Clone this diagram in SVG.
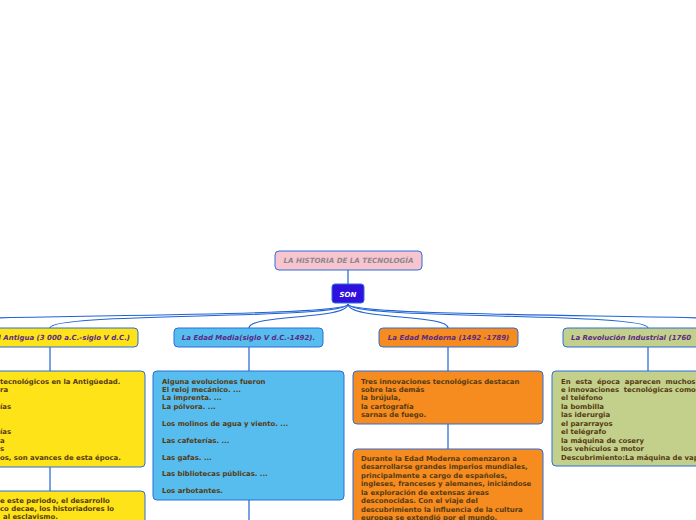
<svg xmlns="http://www.w3.org/2000/svg" width="696" height="520" viewBox="0 0 696 520">
<style>
.box{stroke:#2a6fdb;stroke-width:1}
.t1{font-family:"DejaVu Sans",Verdana,sans-serif;font-weight:bold;font-style:italic;font-size:7px;fill:#5b2a86}
.tx{font-family:"DejaVu Sans",Verdana,sans-serif;font-weight:bold;font-size:6.9px;fill:#553a12}
.con{fill:none;stroke:#1f63d6;stroke-width:1.2}
</style>
<rect width="696" height="520" fill="#ffffff"/>
<g id="connectors">
<path class="con" d="M348,270V284"/>
<path class="con" d="M348,304C348,320 249,314 249,328"/>
<path class="con" d="M348,304C348,320 50,312 50,328"/>
<path class="con" d="M348,304C348,320 -150,312 -150,328"/>
<path class="con" d="M348,304C348,320 448,314 448,328"/>
<path class="con" d="M348,304C348,320 648,312 648,328"/>
<path class="con" d="M348,304C348,320 848,312 848,328"/>
<path class="con" d="M50,347V371M50,467V491M249,347V371M249,500V520M448,347V371M448,424V449M648,347V371"/>
</g>
<g id="title">
<rect class="box" x="275" y="251" width="147" height="19" rx="4" fill="#f8c4d0"/>
<text x="348.5" y="263" text-anchor="middle" font-family="DejaVu Sans,Verdana,sans-serif" font-weight="bold" font-style="italic" font-size="7.1" fill="#8a8a8a">LA HISTORIA DE LA TECNOLOGÍA</text>
</g>
<g id="son">
<rect class="box" x="332" y="284" width="32" height="19" rx="3" fill="#3010dd"/>
<text x="348" y="296.5" text-anchor="middle" font-family="DejaVu Sans,Verdana,sans-serif" font-weight="bold" font-style="italic" font-size="7" fill="#ffffff">SON</text>
</g>
<g id="antigua">
<rect class="box" x="-38" y="328" width="176" height="19" rx="4" fill="#fde318"/>
<text class="t1" x="130" y="340" text-anchor="end">La Edad Antigua (3 000 a.C.-siglo V d.C.)</text>
</g>
<g id="media">
<rect class="box" x="174" y="328" width="149" height="19" rx="4" fill="#56bdee"/>
<text class="t1" x="248.5" y="340" text-anchor="middle">La Edad Media(siglo V d.C.-1492).</text>
</g>
<g id="moderna">
<rect class="box" x="379" y="328" width="139" height="19" rx="4" fill="#f68b20"/>
<text class="t1" x="448.5" y="340" text-anchor="middle">La Edad Moderna (1492 -1789)</text>
</g>
<g id="revolucion">
<rect class="box" x="563" y="328" width="170" height="19" rx="4" fill="#c3d08b"/>
<text class="t1" x="571" y="340">La Revolución Industrial (1760</text>
</g>
<g id="antigua-detalle">
<rect class="box" x="-45" y="371" width="190" height="96" rx="4" fill="#fde318"/>
<text class="tx" y="383.5">
<tspan x="0">tecnológicos en la Antigüedad.</tspan>
<tspan x="0" dy="8.45">ra</tspan>
<tspan x="0" dy="16.9">ías</tspan>
<tspan x="0" dy="25.35">ías</tspan>
<tspan x="0" dy="8.45">a</tspan>
<tspan x="0" dy="8.45">s</tspan>
<tspan x="0" dy="8.45">os, son avances de esta época.</tspan>
</text>
</g>
<g id="antigua-detalle-2">
<rect class="box" x="-45" y="491" width="190" height="40" rx="4" fill="#fde318"/>
<text class="tx" y="502.5">
<tspan x="0">e este periodo, el desarrollo</tspan>
<tspan x="0" dy="8.45">co decae, los historiadores lo</tspan>
<tspan x="3" dy="8.45">al esclavismo.</tspan>
</text>
</g>
<g id="media-detalle">
<rect class="box" x="153" y="371" width="191" height="129" rx="4" fill="#56bdee"/>
<text class="tx" y="383.5">
<tspan x="162">Alguna evoluciones fueron</tspan>
<tspan x="162" dy="8.45">El reloj mecánico. ...</tspan>
<tspan x="162" dy="8.45">La imprenta. ...</tspan>
<tspan x="162" dy="8.45">La pólvora. ...</tspan>
<tspan x="162" dy="16.9">Los molinos de agua y viento. ...</tspan>
<tspan x="162" dy="16.9">Las cafeterías. ...</tspan>
<tspan x="162" dy="16.9">Las gafas. ...</tspan>
<tspan x="162" dy="16.9">Las bibliotecas públicas. ...</tspan>
<tspan x="162" dy="16.9">Los arbotantes.</tspan>
</text>
</g>
<g id="moderna-detalle">
<rect class="box" x="353" y="371" width="190" height="53" rx="4" fill="#f68b20"/>
<text class="tx" y="383.5">
<tspan x="361">Tres innovaciones tecnológicas destacan</tspan>
<tspan x="361" dy="8.45">sobre las demás</tspan>
<tspan x="361" dy="8.45">la brújula,</tspan>
<tspan x="361" dy="8.45">la cartografía</tspan>
<tspan x="361" dy="8.45">sarnas de fuego.</tspan>
</text>
</g>
<g id="moderna-detalle-2">
<rect class="box" x="353" y="449" width="190" height="80" rx="4" fill="#f68b20"/>
<text class="tx" y="460.5">
<tspan x="361">Durante la Edad Moderna comenzaron a</tspan>
<tspan x="361" dy="8.5">desarrollarse grandes imperios mundiales,</tspan>
<tspan x="361" dy="8.5">principalmente a cargo de españoles,</tspan>
<tspan x="361" dy="8.5">ingleses, franceses y alemanes, iniciándose</tspan>
<tspan x="361" dy="8.5">la exploración de extensas áreas</tspan>
<tspan x="361" dy="8.5">desconocidas. Con el viaje del</tspan>
<tspan x="361" dy="8.5">descubrimiento la influencia de la cultura</tspan>
<tspan x="361" dy="8.5">europea se extendió por el mundo.</tspan>
</text>
</g>
<g id="revolucion-detalle">
<rect class="box" x="552" y="371" width="192" height="95" rx="4" fill="#c3d08b"/>
<text class="tx" y="383.5" xml:space="preserve"><tspan x="561">En  esta  época  aparecen  muchos</tspan><tspan x="561" dy="8.45">e innovaciones  tecnológicas como</tspan><tspan x="561" dy="8.45">el teléfono</tspan><tspan x="561" dy="8.45">la bombilla</tspan><tspan x="561" dy="8.45">las iderurgia</tspan><tspan x="561" dy="8.45">el pararrayos</tspan><tspan x="561" dy="8.45">el telégrafo</tspan><tspan x="561" dy="8.45">la máquina de cosery</tspan><tspan x="561" dy="8.45">los vehículos a motor</tspan><tspan x="561" dy="8.45">Descubrimiento:La máquina de vapor</tspan></text>
</g>
</svg>
